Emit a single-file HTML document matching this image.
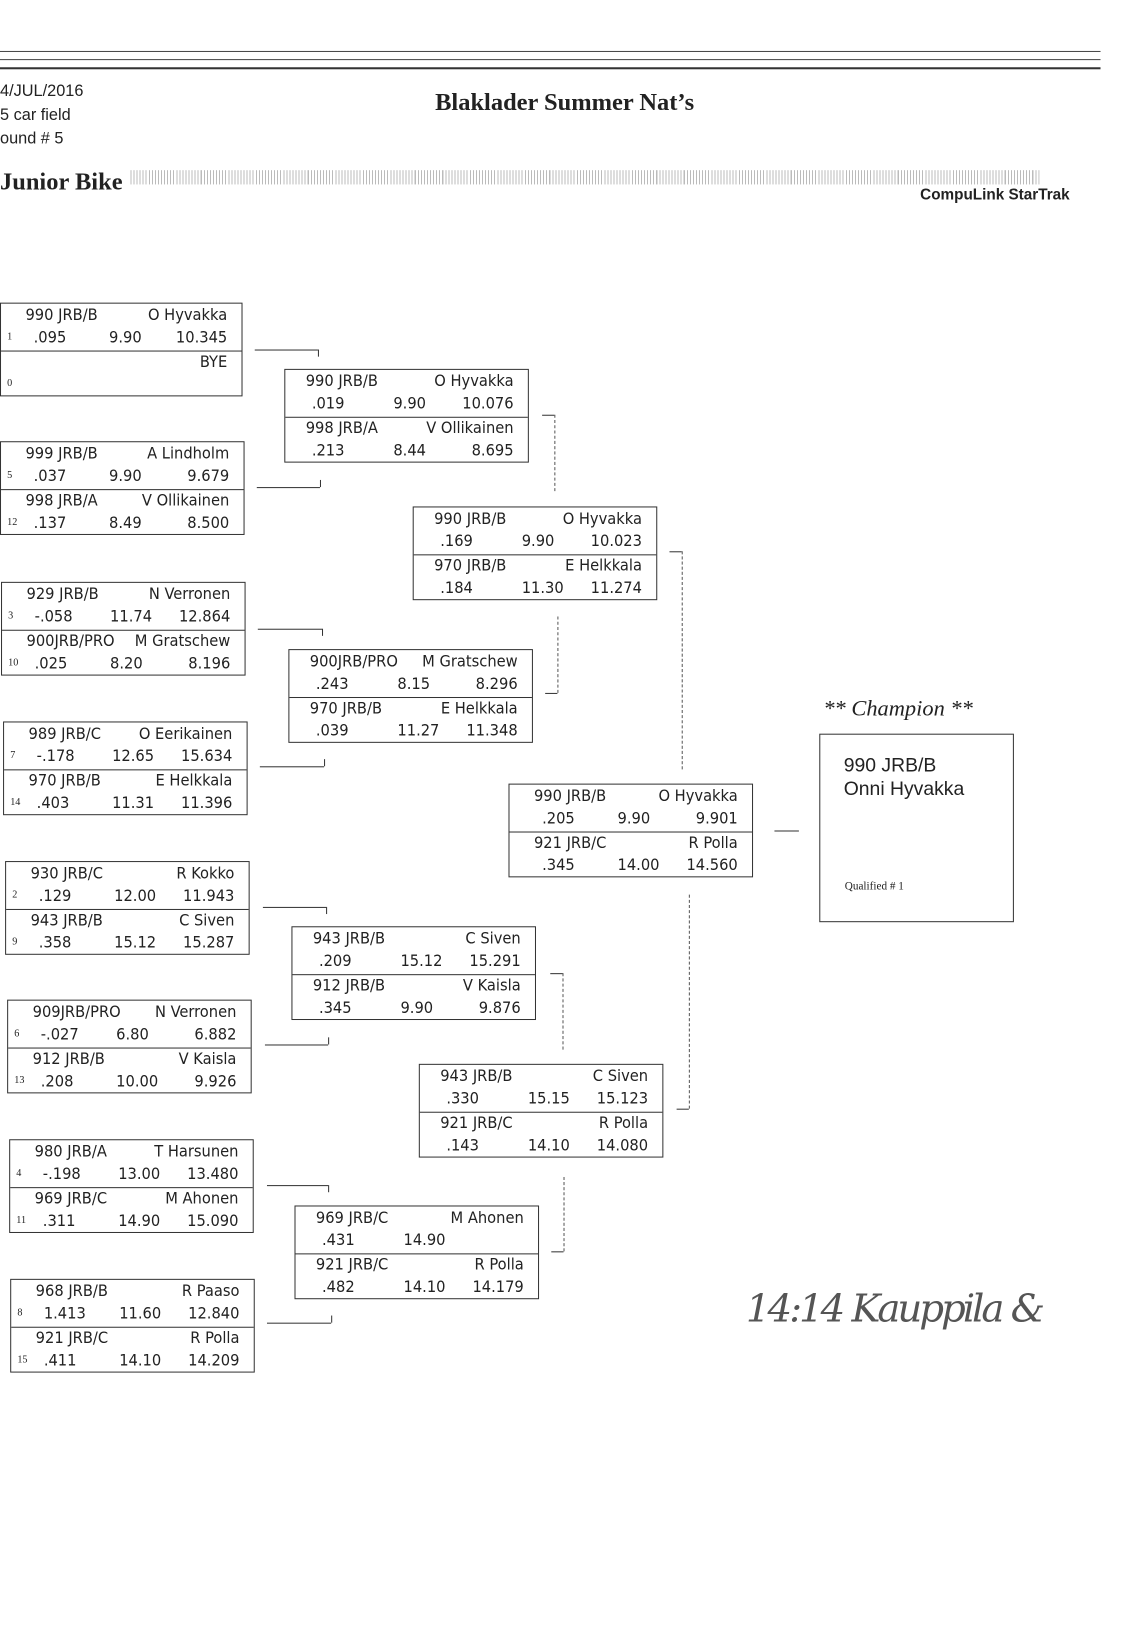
<!DOCTYPE html>
<html><head><meta charset="utf-8"><style>
body{margin:0;width:1121px;height:1600px;background:#fff;position:relative;overflow:hidden;font-family:"Liberation Sans",sans-serif;color:#222}
#w{position:absolute;left:0;top:0;width:1121px;height:1600px;transform:scale(1.019);transform-origin:0 0}
.a{position:absolute;white-space:nowrap}
.b{position:absolute;width:240px;height:92px;border:1px solid #333;box-sizing:border-box}
.b .d{position:absolute;left:0;right:0;top:46px;border-top:1px solid #333}
.b span{position:absolute;font-size:16px;line-height:20px;font-family:"DejaVu Sans Condensed","Liberation Sans Narrow","Liberation Sans",sans-serif;white-space:nowrap}
.c{left:24px}.n{right:14px}.r{left:32px}.e{left:106px}.s{right:14px}
.t1{top:1px}.t2{top:23px}.t3{top:47px}.t4{top:69px}
.sd{left:6px;font-size:10px!important;font-family:"Liberation Serif",serif!important}
.h{position:absolute;border-top:1px solid #333;height:0}
.v{position:absolute;border-left:1px solid #333;width:0}
.vd{position:absolute;border-left:1px dashed #555;width:0}
</style></head><body><div id="w">
<div class="h" style="left:0;top:50px;width:1080px;border-top:1px solid #444"></div>
<div class="h" style="left:0;top:58px;width:1080px;border-top:1px solid #444"></div>
<div class="h" style="left:0;top:66px;width:1080px;border-top:2px solid #333"></div>
<div class="a" style="left:0;top:81px;font-size:16px">4/JUL/2016</div>
<div class="a" style="left:0;top:105px;font-size:16px">5 car field</div>
<div class="a" style="left:0;top:128px;font-size:16px">ound # 5</div>
<div class="a" style="left:427px;top:88px;font:bold 24px 'Liberation Serif',serif">Blaklader Summer Nat’s</div>
<div class="a" style="left:0;top:166px;font:bold 24px 'Liberation Serif',serif">Junior Bike</div>
<div class="a" style="left:128px;top:167px;width:892px;height:14px;background:repeating-linear-gradient(90deg,#bbb 0 1px,#fff 1px 3px)"></div>
<div class="a" style="left:903px;top:183px;font-size:15px;font-weight:bold">CompuLink StarTrak</div>

<div class="b" style="left:0;top:297px;width:238px"><span class="c t1">990 JRB/B</span><span class="n t1">O Hyvakka</span><span class="sd t2">1</span><span class="r t2">.095</span><span class="e t2">9.90</span><span class="s t2">10.345</span><div class="d"></div><span class="n t3">BYE</span><span class="sd t4">0</span></div>
<div class="b" style="left:0;top:433px"><span class="c t1">999 JRB/B</span><span class="n t1">A Lindholm</span><span class="sd t2">5</span><span class="r t2">.037</span><span class="e t2">9.90</span><span class="s t2">9.679</span><div class="d"></div><span class="c t3">998 JRB/A</span><span class="n t3">V Ollikainen</span><span class="sd t4">12</span><span class="r t4">.137</span><span class="e t4">8.49</span><span class="s t4">8.500</span></div>
<div class="b" style="left:1px;top:571px"><span class="c t1">929 JRB/B</span><span class="n t1">N Verronen</span><span class="sd t2">3</span><span class="r t2">-.058</span><span class="e t2">11.74</span><span class="s t2">12.864</span><div class="d"></div><span class="c t3">900JRB/PRO</span><span class="n t3">M Gratschew</span><span class="sd t4">10</span><span class="r t4">.025</span><span class="e t4">8.20</span><span class="s t4">8.196</span></div>
<div class="b" style="left:3px;top:708px"><span class="c t1">989 JRB/C</span><span class="n t1">O Eerikainen</span><span class="sd t2">7</span><span class="r t2">-.178</span><span class="e t2">12.65</span><span class="s t2">15.634</span><div class="d"></div><span class="c t3">970 JRB/B</span><span class="n t3">E Helkkala</span><span class="sd t4">14</span><span class="r t4">.403</span><span class="e t4">11.31</span><span class="s t4">11.396</span></div>
<div class="b" style="left:5px;top:845px"><span class="c t1">930 JRB/C</span><span class="n t1">R Kokko</span><span class="sd t2">2</span><span class="r t2">.129</span><span class="e t2">12.00</span><span class="s t2">11.943</span><div class="d"></div><span class="c t3">943 JRB/B</span><span class="n t3">C Siven</span><span class="sd t4">9</span><span class="r t4">.358</span><span class="e t4">15.12</span><span class="s t4">15.287</span></div>
<div class="b" style="left:7px;top:981px"><span class="c t1">909JRB/PRO</span><span class="n t1">N Verronen</span><span class="sd t2">6</span><span class="r t2">-.027</span><span class="e t2">6.80</span><span class="s t2">6.882</span><div class="d"></div><span class="c t3">912 JRB/B</span><span class="n t3">V Kaisla</span><span class="sd t4">13</span><span class="r t4">.208</span><span class="e t4">10.00</span><span class="s t4">9.926</span></div>
<div class="b" style="left:9px;top:1118px"><span class="c t1">980 JRB/A</span><span class="n t1">T Harsunen</span><span class="sd t2">4</span><span class="r t2">-.198</span><span class="e t2">13.00</span><span class="s t2">13.480</span><div class="d"></div><span class="c t3">969 JRB/C</span><span class="n t3">M Ahonen</span><span class="sd t4">11</span><span class="r t4">.311</span><span class="e t4">14.90</span><span class="s t4">15.090</span></div>
<div class="b" style="left:10px;top:1255px"><span class="c t1">968 JRB/B</span><span class="n t1">R Paaso</span><span class="sd t2">8</span><span class="r t2">1.413</span><span class="e t2">11.60</span><span class="s t2">12.840</span><div class="d"></div><span class="c t3">921 JRB/C</span><span class="n t3">R Polla</span><span class="sd t4">15</span><span class="r t4">.411</span><span class="e t4">14.10</span><span class="s t4">14.209</span></div>

<div class="b" style="left:279px;top:362px"><span class="c t1" style="left:20px">990 JRB/B</span><span class="n t1">O Hyvakka</span><span class="r t2" style="left:26px">.019</span><span class="e t2">9.90</span><span class="s t2">10.076</span><div class="d"></div><span class="c t3" style="left:20px">998 JRB/A</span><span class="n t3">V Ollikainen</span><span class="r t4" style="left:26px">.213</span><span class="e t4">8.44</span><span class="s t4">8.695</span></div>
<div class="b" style="left:283px;top:637px"><span class="c t1" style="left:20px">900JRB/PRO</span><span class="n t1">M Gratschew</span><span class="r t2" style="left:26px">.243</span><span class="e t2">8.15</span><span class="s t2">8.296</span><div class="d"></div><span class="c t3" style="left:20px">970 JRB/B</span><span class="n t3">E Helkkala</span><span class="r t4" style="left:26px">.039</span><span class="e t4">11.27</span><span class="s t4">11.348</span></div>
<div class="b" style="left:286px;top:909px"><span class="c t1" style="left:20px">943 JRB/B</span><span class="n t1">C Siven</span><span class="r t2" style="left:26px">.209</span><span class="e t2">15.12</span><span class="s t2">15.291</span><div class="d"></div><span class="c t3" style="left:20px">912 JRB/B</span><span class="n t3">V Kaisla</span><span class="r t4" style="left:26px">.345</span><span class="e t4">9.90</span><span class="s t4">9.876</span></div>
<div class="b" style="left:289px;top:1183px"><span class="c t1" style="left:20px">969 JRB/C</span><span class="n t1">M Ahonen</span><span class="r t2" style="left:26px">.431</span><span class="e t2">14.90</span><div class="d"></div><span class="c t3" style="left:20px">921 JRB/C</span><span class="n t3">R Polla</span><span class="r t4" style="left:26px">.482</span><span class="e t4">14.10</span><span class="s t4">14.179</span></div>

<div class="b" style="left:405px;top:497px"><span class="c t1" style="left:20px">990 JRB/B</span><span class="n t1">O Hyvakka</span><span class="r t2" style="left:26px">.169</span><span class="e t2">9.90</span><span class="s t2">10.023</span><div class="d"></div><span class="c t3" style="left:20px">970 JRB/B</span><span class="n t3">E Helkkala</span><span class="r t4" style="left:26px">.184</span><span class="e t4">11.30</span><span class="s t4">11.274</span></div>
<div class="b" style="left:411px;top:1044px"><span class="c t1" style="left:20px">943 JRB/B</span><span class="n t1">C Siven</span><span class="r t2" style="left:26px">.330</span><span class="e t2">15.15</span><span class="s t2">15.123</span><div class="d"></div><span class="c t3" style="left:20px">921 JRB/C</span><span class="n t3">R Polla</span><span class="r t4" style="left:26px">.143</span><span class="e t4">14.10</span><span class="s t4">14.080</span></div>

<div class="b" style="left:499px;top:769px"><span class="c t1">990 JRB/B</span><span class="n t1">O Hyvakka</span><span class="r t2">.205</span><span class="e t2">9.90</span><span class="s t2">9.901</span><div class="d"></div><span class="c t3">921 JRB/C</span><span class="n t3">R Polla</span><span class="r t4">.345</span><span class="e t4">14.00</span><span class="s t4">14.560</span></div>

<div class="a" style="left:808px;top:682px;font:italic 22px 'Liberation Serif',serif">** Champion **</div>
<div class="a" style="left:804px;top:720px;width:191px;height:185px;border:1px solid #333;box-sizing:border-box"></div>
<div class="a" style="left:828px;top:740px;font-size:19px;line-height:23px">990 JRB/B<br>Onni Hyvakka</div>
<div class="a" style="left:829px;top:864px;font:11px 'Liberation Serif',serif">Qualified # 1</div>

<div class="h" style="left:250px;top:343px;width:62px"></div><div class="v" style="left:312px;top:343px;height:7px"></div>
<div class="h" style="left:252px;top:478px;width:62px"></div><div class="v" style="left:314px;top:471px;height:7px"></div>
<div class="h" style="left:253px;top:617px;width:63px"></div><div class="v" style="left:316px;top:617px;height:7px"></div>
<div class="h" style="left:255px;top:752px;width:63px"></div><div class="v" style="left:318px;top:745px;height:7px"></div>
<div class="h" style="left:258px;top:890px;width:62px"></div><div class="v" style="left:320px;top:890px;height:7px"></div>
<div class="h" style="left:260px;top:1025px;width:62px"></div><div class="v" style="left:322px;top:1018px;height:7px"></div>
<div class="h" style="left:262px;top:1163px;width:60px"></div><div class="v" style="left:322px;top:1163px;height:7px"></div>
<div class="h" style="left:262px;top:1298px;width:63px"></div><div class="v" style="left:325px;top:1291px;height:7px"></div>
<div class="h" style="left:532px;top:407px;width:12px"></div><div class="vd" style="left:544px;top:407px;height:75px"></div>
<div class="vd" style="left:547px;top:605px;height:75px"></div><div class="h" style="left:535px;top:680px;width:12px"></div>
<div class="h" style="left:540px;top:955px;width:12px"></div><div class="vd" style="left:552px;top:955px;height:75px"></div>
<div class="vd" style="left:553px;top:1155px;height:73px"></div><div class="h" style="left:541px;top:1228px;width:12px"></div>
<div class="h" style="left:657px;top:541px;width:12px"></div><div class="vd" style="left:669px;top:541px;height:214px"></div>
<div class="vd" style="left:676px;top:878px;height:210px"></div><div class="h" style="left:664px;top:1088px;width:12px"></div>
<div class="h" style="left:760px;top:815px;width:24px"></div>

<div class="a" style="left:732px;top:1262px;font:italic 38px 'DejaVu Serif',serif;color:#555;letter-spacing:-3px">14:14 Kauppila &amp;</div>
</div></body></html>
